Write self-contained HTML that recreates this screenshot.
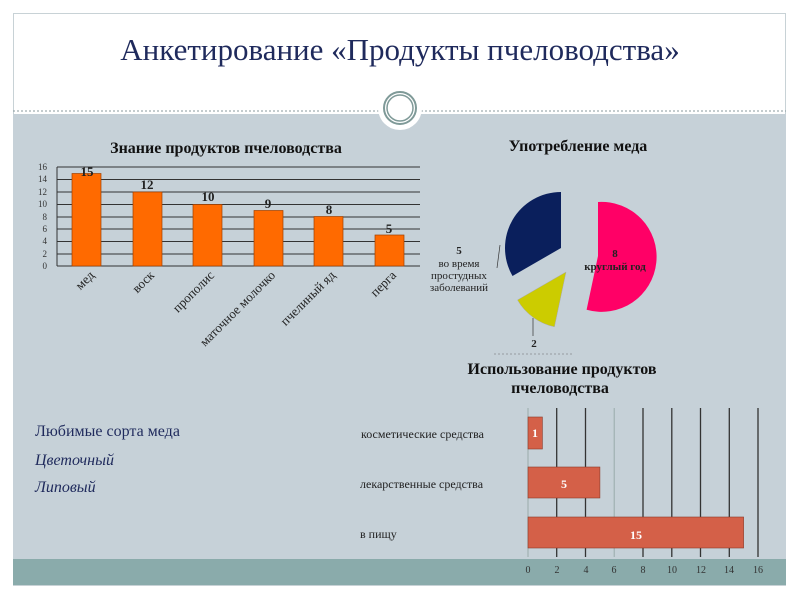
<!DOCTYPE html>
<html><head><meta charset="utf-8"><style>
html,body{margin:0;padding:0;background:#fff;}
svg{display:block;}
</style></head><body>
<svg width="800" height="600" viewBox="0 0 800 600" xmlns="http://www.w3.org/2000/svg" font-family="'Liberation Serif','DejaVu Serif',serif">
<rect x="0" y="0" width="800" height="600" fill="#fff"/>
<rect x="13.5" y="13.5" width="772" height="572" fill="none" stroke="#c8d2d6" stroke-width="1"/>
<rect x="13" y="114" width="773" height="445" fill="#c6d1d8"/>
<rect x="13" y="559" width="773" height="26" fill="#8aabab"/>
<line x1="13" y1="111" x2="786" y2="111" stroke="#8a9a9e" stroke-dasharray="2,2"/>
<circle cx="400" cy="108" r="22" fill="#fff"/>
<circle cx="400" cy="108" r="16" fill="#fff" stroke="#7f9a98" stroke-width="2"/>
<circle cx="400" cy="108" r="13" fill="none" stroke="#7f9a98" stroke-width="1.5"/>
<text x="400" y="60" text-anchor="middle" font-size="31" fill="#1f2a5c">Анкетирование «Продукты пчеловодства»</text>

<!-- bar chart 1 -->
<text x="226" y="153" text-anchor="middle" font-size="16" font-weight="bold" fill="#111">Знание продуктов пчеловодства</text>
<g stroke="#333" stroke-width="1">
<line x1="57" y1="167" x2="420" y2="167"/><line x1="57" y1="179.5" x2="420" y2="179.5"/>
<line x1="57" y1="192" x2="420" y2="192"/><line x1="57" y1="204.5" x2="420" y2="204.5"/>
<line x1="57" y1="217" x2="420" y2="217"/><line x1="57" y1="229" x2="420" y2="229"/>
<line x1="57" y1="241.5" x2="420" y2="241.5"/><line x1="57" y1="254" x2="420" y2="254"/>
<line x1="57" y1="266" x2="420" y2="266"/><line x1="57" y1="167" x2="57" y2="266"/>
</g>
<g font-size="9" fill="#333" text-anchor="end">
<text x="47" y="170">16</text><text x="47" y="182">14</text><text x="47" y="195">12</text><text x="47" y="207">10</text><text x="47" y="220">8</text><text x="47" y="232">6</text><text x="47" y="244">4</text><text x="47" y="257">2</text><text x="47" y="269">0</text>
</g>
<g fill="#ff6a00" stroke="#a04000" stroke-width="0.7">
<rect x="72" y="173.5" width="29" height="92.5"/>
<rect x="133" y="192" width="29" height="74"/>
<rect x="193" y="204.5" width="29" height="61.5"/>
<rect x="254" y="210.5" width="29" height="55.5"/>
<rect x="314" y="216.5" width="29" height="49.5"/>
<rect x="375" y="235" width="29" height="31"/>
</g>
<g font-size="13" font-weight="bold" fill="#222" text-anchor="middle">
<text x="87" y="176">15</text><text x="147" y="189">12</text><text x="208" y="201">10</text><text x="268" y="208">9</text><text x="329" y="214">8</text><text x="389" y="233">5</text>
</g>
<g font-size="13" fill="#222" text-anchor="end">
<text transform="translate(95,276) rotate(-45)">мед</text>
<text transform="translate(155,276) rotate(-45)">воск</text>
<text transform="translate(215,276) rotate(-45)">прополис</text>
<text transform="translate(276,276) rotate(-45)">маточное молочко</text>
<text transform="translate(336,276) rotate(-45)">пчелиный яд</text>
<text transform="translate(397,276) rotate(-45)">перга</text>
</g>

<!-- pie -->
<text x="578" y="151" text-anchor="middle" font-size="16" font-weight="bold" fill="#111">Употребление меда</text>
<path d="M598,256 L598,202 A55,55 0 1 1 586.6,309.8 Z" fill="#ff0066"/>
<path d="M566,272 L554.4,326.8 A56,56 0 0 1 517.5,300 Z" fill="#cccc00" stroke="#aaa" stroke-width="0.5"/>
<path d="M561,248 L512.5,276 A56,56 0 0 1 561,192 Z" fill="#0a1f5c"/>
<g font-size="11" font-weight="bold" fill="#222" text-anchor="middle">
<text x="615" y="257">8</text><text x="615" y="270">круглый год</text>
<text x="459" y="254">5</text>
<text x="459" y="267" font-weight="normal">во время</text>
<text x="459" y="279" font-weight="normal">простудных</text>
<text x="459" y="291" font-weight="normal">заболеваний</text>
<text x="534" y="347">2</text>
</g>
<line x1="500" y1="245" x2="497" y2="268" stroke="#333" stroke-width="0.7"/>
<line x1="533" y1="318" x2="533" y2="336" stroke="#333" stroke-width="0.7"/>
<line x1="494" y1="354" x2="574" y2="354" stroke="#666" stroke-dasharray="2,2" stroke-width="0.6"/>

<!-- bar chart 3 -->
<g font-size="16" font-weight="bold" fill="#111" text-anchor="middle">
<text x="562" y="374">Использование продуктов</text>
<text x="560" y="393">пчеловодства</text>
</g>
<g stroke="#333" stroke-width="1.3">
<line x1="556.7" y1="408" x2="556.7" y2="557"/><line x1="585.5" y1="408" x2="585.5" y2="557"/>
<line x1="643" y1="408" x2="643" y2="557"/><line x1="671.8" y1="408" x2="671.8" y2="557"/>
<line x1="700.5" y1="408" x2="700.5" y2="557"/><line x1="729.3" y1="408" x2="729.3" y2="557"/>
<line x1="758" y1="408" x2="758" y2="557"/>
</g>
<g stroke="#9aa" stroke-width="1">
<line x1="528" y1="408" x2="528" y2="557"/><line x1="614.2" y1="408" x2="614.2" y2="557"/>
</g>
<g fill="#d46048" stroke="#8a3a2a" stroke-width="0.6">
<rect x="528" y="417" width="14.4" height="32"/>
<rect x="528" y="467" width="71.9" height="31"/>
<rect x="528" y="517" width="215.6" height="31"/>
</g>
<g font-size="12" font-weight="bold" fill="#fff" text-anchor="middle">
<text x="535" y="437">1</text><text x="564" y="488">5</text><text x="636" y="539">15</text>
</g>
<g font-size="12" fill="#222">
<text x="361" y="438">косметические средства</text>
<text x="360" y="488">лекарственные средства</text>
<text x="360" y="538">в пищу</text>
</g>
<g font-size="10" fill="#333" text-anchor="middle">
<text x="528" y="573">0</text><text x="557" y="573">2</text><text x="586" y="573">4</text><text x="614" y="573">6</text><text x="643" y="573">8</text><text x="672" y="573">10</text><text x="701" y="573">12</text><text x="729" y="573">14</text><text x="758" y="573">16</text>
</g>

<g font-size="16" fill="#1f2a5c">
<text x="35" y="436">Любимые сорта меда</text>
<text x="35" y="465" font-style="italic">Цветочный</text>
<text x="35" y="492" font-style="italic">Липовый</text>
</g>
</svg>
</body></html>
